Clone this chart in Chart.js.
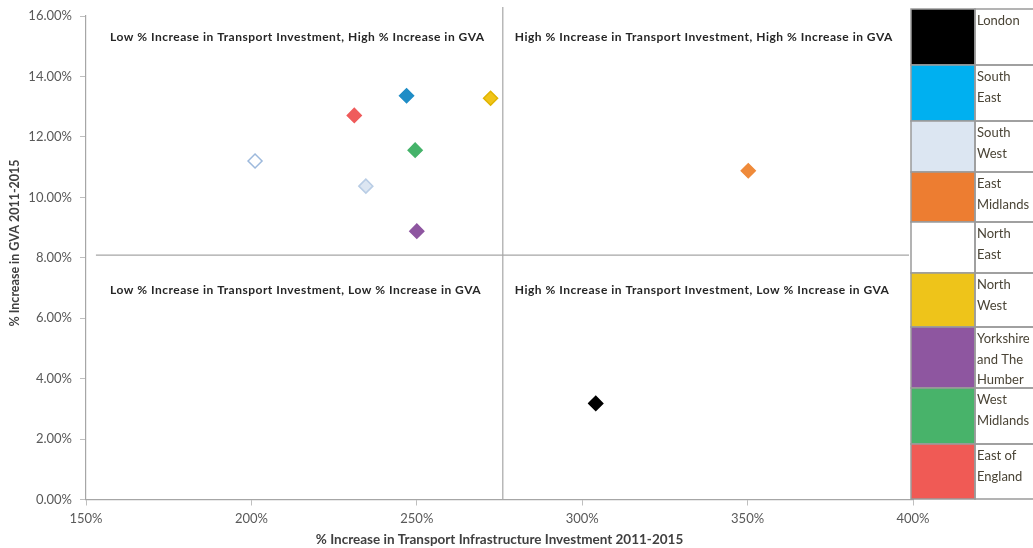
<!DOCTYPE html>
<html>
<head>
<meta charset="utf-8">
<script src="https://cdn.jsdelivr.net/npm/chart.js@4.4.1/dist/chart.umd.min.js"></script>
<style>
  html, body { margin: 0; padding: 0; background: #ffffff; }
  #wrap { position: relative; width: 1033px; height: 548px; }
</style>
</head>
<body>
<div id="wrap"><canvas id="grafico"></canvas></div>
<script>
// regions and their growth figures, 2011-2015
const regions = ['London', 'South East', 'South West', 'East Midlands', 'North East', 'North West', 'Yorkshire and The Humber', 'West Midlands', 'East of England'];
const legendLines = [['London'], ['South', 'East'], ['South', 'West'], ['East', 'Midlands'], ['North', 'East'], ['North', 'West'], ['Yorkshire', 'and The', 'Humber'], ['West', 'Midlands'], ['East of', 'England']];
const transportIncrease = [304.1, 246.9, 234.6, 350.2, 201.1, 272.3, 250.0, 249.5, 231.1];
const gvaIncrease = [3.18, 13.36, 10.37, 10.88, 11.20, 13.28, 8.88, 11.56, 12.71];

const xTicks = [150, 200, 250, 300, 350, 400];
const yTicks = [0, 2, 4, 6, 8, 10, 12, 14, 16];

// where the quadrants are split
const splitTransport = 276;
const splitGva = 8.09;
const quadrantLabels = [
    'Low % Increase in Transport Investment, High % Increase in GVA',
    'High % Increase in Transport Investment, High % Increase in GVA',
    'Low % Increase in Transport Investment, Low % Increase in GVA',
    'High % Increase in Transport Investment, Low % Increase in GVA',
];

// colours
const swatchColors = ['#000000', '#00b0f0', '#dce6f2', '#ed7d31', '#ffffff', '#eec41a', '#8e56a0', '#48b36a', '#f05a55'];
const markerColors = ['#000000', '#1f8dc6', '#dce6f2', '#ef8a3a', '#ffffff', '#f0c419', '#8e56a0', '#45b36a', '#ef5b5b'];
const markerBorders = ['#000000', '#1f8dc6', '#b9cde5', '#ef8a3a', '#9db9dc', '#e0b400', '#8e56a0', '#45b36a', '#ef5b5b'];
const legendRowHeights = [56, 56, 51, 50, 51, 54, 61, 56, 55];

const FONT = 'Lato, "Open Sans", sans-serif';

const extras = {
    id: 'extras',
    afterDraw(chart) {
        const ctx = chart.ctx;
        const area = chart.chartArea;
        const xs = chart.scales.x;
        const ys = chart.scales.y;
        ctx.save();

        // quadrant captions
        ctx.font = 'bold 12px ' + FONT;
        ctx.letterSpacing = '0.5px';
        ctx.fillStyle = '#262626';
        ctx.textBaseline = 'middle';
        ctx.textAlign = 'left';
        const cols = [area.left + 24, xs.getPixelForValue(splitTransport) + 12];
        const rows = [area.top + 21, ys.getPixelForValue(splitGva) + 35];
        quadrantLabels.forEach((txt, i) => {
            ctx.fillText(txt, cols[i % 2], rows[Math.floor(i / 2)]);
        });
        ctx.letterSpacing = '0px';

        // y axis title
        ctx.save();
        ctx.translate(15, 243);
        ctx.rotate(-Math.PI / 2);
        ctx.textAlign = 'center';
        ctx.font = 'bold 12.5px ' + FONT;
        ctx.fillStyle = '#404040';
        ctx.fillText('% Increase in GVA 2011-2015', 0, 0);
        ctx.restore();

        // colour key table on the right
        const left = 911, mid = 975, right = 1040;
        let top = 9;
        ctx.font = '13px ' + FONT;
        ctx.textAlign = 'left';
        ctx.lineWidth = 1.5;
        regions.forEach((name, i) => {
            const h = legendRowHeights[i];
            ctx.fillStyle = swatchColors[i];
            ctx.fillRect(left, top, mid - left, h);
            ctx.strokeStyle = '#9a9a9a';
            ctx.strokeRect(left, top, mid - left, h);
            ctx.strokeRect(mid, top, right - mid, h);
            ctx.fillStyle = '#4a4436';
            legendLines[i].forEach((line, j) => {
                ctx.fillText(line, mid + 2, top + 12 + j * 20.5);
            });
            top += h;
        });
        ctx.restore();
    }
};

const points = regions.map((r, i) => ({ x: transportIncrease[i], y: gvaIncrease[i] }));

new Chart(document.getElementById('grafico'), {
    type: 'scatter',
    data: {
        datasets: [
            {
                label: 'Regions',
                data: points,
                pointStyle: 'rectRot',
                pointRadius: 7,
                pointHoverRadius: 7,
                backgroundColor: markerColors,
                borderColor: markerBorders,
                borderWidth: 1.5,
            },
            {
                label: 'split-x',
                type: 'line',
                data: [{ x: splitTransport, y: 0 }, { x: splitTransport, y: 16.3 }],
                borderColor: '#a6a6a6',
                borderWidth: 1.2,
                pointRadius: 0,
                clip: false,
            },
            {
                label: 'split-y',
                type: 'line',
                data: [{ x: 153, y: splitGva }, { x: 398.8, y: splitGva }],
                borderColor: '#a6a6a6',
                borderWidth: 1.2,
                pointRadius: 0,
                clip: false,
            },
        ],
    },
    options: {
        responsive: true,
        maintainAspectRatio: false,
        animation: false,
        layout: { padding: { top: 16, right: 120, left: 0, bottom: 0 } },
        plugins: {
            legend: { display: false },
            tooltip: { enabled: false },
        },
        scales: {
            x: {
                type: 'linear',
                min: 150,
                max: 400,
                afterBuildTicks: (scale) => { scale.ticks = xTicks.map(v => ({ value: v })); },
                afterFit: (scale) => { scale.height = 48.5; },
                ticks: {
                    callback: (v) => v + '%',
                    color: '#595959',
                    font: { family: FONT, size: 13 },
                    padding: 6,
                    maxRotation: 0,
                },
                grid: { drawOnChartArea: false, drawTicks: true, tickLength: 6, color: '#bfbfbf' },
                border: { color: '#a6a6a6', width: 1.2 },
                title: {
                    display: true,
                    text: '% Increase in Transport Infrastructure Investment 2011-2015',
                    color: '#404040',
                    font: { family: FONT, size: 13.5, weight: 'bold' },
                    padding: { top: 1, bottom: 0 },
                },
            },
            y: {
                type: 'linear',
                min: 0,
                max: 16,
                afterBuildTicks: (scale) => { scale.ticks = yTicks.map(v => ({ value: v })); },
                afterFit: (scale) => { scale.width = 86; },
                ticks: {
                    callback: (v) => v.toFixed(2) + '%',
                    color: '#595959',
                    font: { family: FONT, size: 13 },
                    padding: 8,
                },
                grid: { drawOnChartArea: false, drawTicks: true, tickLength: 6, color: '#bfbfbf' },
                border: { color: '#a6a6a6', width: 1.2 },
            },
        },
    },
    plugins: [extras],
});
</script>
</body>
</html>
